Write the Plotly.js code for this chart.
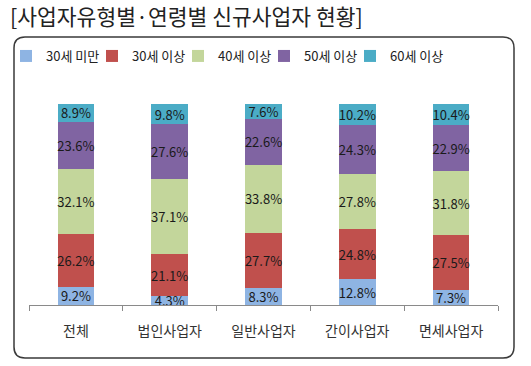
<!DOCTYPE html>
<html>
<head>
<meta charset="utf-8">
<script src="https://cdn.plot.ly/plotly-3.0.1.min.js"></script>
<style>html,body{margin:0;padding:0;background:#fff;}#chart{width:531px;height:366px;}</style>
</head>
<body>
<div id="chart"></div>
<script>
const categories = ['전체', '법인사업자', '일반사업자', '간이사업자', '면세사업자'];
const seriesNames = ['30세 미만', '30세 이상', '40세 이상', '50세 이상', '60세 이상'];
const under30 = [9.2, 4.3, 8.3, 12.8, 7.3];
const age30 = [26.2, 21.1, 27.7, 24.8, 27.5];
const age40 = [32.1, 37.1, 33.8, 27.8, 31.8];
const age50 = [23.6, 27.6, 22.6, 24.3, 22.9];
const age60 = [8.9, 9.8, 7.6, 10.2, 10.4];
const colors = ['#8EB4E3', '#C0504D', '#C3D69B', '#8064A2', '#4BACC6'];

const FONT = '"Noto Sans CJK KR", "Noto Sans", sans-serif';
const W = 531, H = 366;
const PL = 29, PR = 498, PT = 104, PB = 305;
const pxX = x => (x - PL) / (PR - PL);
const pxY = y => (PB - y) / (PB - PT);

const all = [under30, age30, age40, age50, age60];
const legendIds = ['legend', 'legend2', 'legend3', 'legend4', 'legend5'];
const traces = all.map((vals, i) => ({
  type: 'bar',
  name: seriesNames[i],
  legend: legendIds[i],
  x: categories,
  y: vals,
  width: 0.39,
  marker: {color: colors[i], line: {width: 0}},
  text: vals.map(v => v.toFixed(1) + '%'),
  textposition: 'inside',
  insidetextanchor: 'middle',
  textangle: 0,
  constraintext: 'none',
  insidetextfont: {family: FONT, size: 13, color: '#1a1a1a'},
  hoverinfo: 'skip'
}));

// rounded frame
const bx0 = 14, bx1 = 514, by0 = 37, by1 = 358, r = 11;
const path = [
  'M', pxX(bx0 + r), pxY(by0),
  'L', pxX(bx1 - r), pxY(by0),
  'Q', pxX(bx1), pxY(by0), pxX(bx1), pxY(by0 + r),
  'L', pxX(bx1), pxY(by1 - r),
  'Q', pxX(bx1), pxY(by1), pxX(bx1 - r), pxY(by1),
  'L', pxX(bx0 + r), pxY(by1),
  'Q', pxX(bx0), pxY(by1), pxX(bx0), pxY(by1 - r),
  'L', pxX(bx0), pxY(by0 + r),
  'Q', pxX(bx0), pxY(by0), pxX(bx0 + r), pxY(by0), 'Z'
].join(' ');

const layout = {
  width: W, height: H,
  margin: {l: PL, r: W - PR, t: PT, b: H - PB, autoexpand: false},
  paper_bgcolor: '#ffffff',
  plot_bgcolor: 'rgba(0,0,0,0)',
  barmode: 'stack',
  showlegend: true,
  font: {family: FONT, color: '#222'},
  title: {
    text: '[사업자유형별·연령별 신규사업자 현황]',
    x: 10 / W, xanchor: 'left', xref: 'container',
    y: 1 - 17 / H, yanchor: 'middle', yref: 'container',
    font: {family: FONT, size: 21.5, color: '#222'}
  },
  xaxis: {
    type: 'category',
    showline: true, linecolor: '#8a8a8a', linewidth: 1,
    ticks: 'outside', tickson: 'boundaries', ticklen: 5, tickcolor: '#8a8a8a',
    tickfont: {family: FONT, size: 14, color: '#333'},
    ticklabelstandoff: 13,
    showgrid: false, zeroline: false, fixedrange: true
  },
  yaxis: {
    range: [0, 100], visible: false, showgrid: false, zeroline: false, fixedrange: true
  },
  shapes: [{
    type: 'path', xref: 'paper', yref: 'paper', path: path,
    line: {color: '#3a3a3a', width: 1.5}, layer: 'below'
  }]
};

// one legend box per series, laid out in a row like the original
legendIds.forEach((id, i) => {
  layout[id] = {
    orientation: 'h',
    x: pxX(6 + 86 * i), xanchor: 'left',
    y: pxY(56), yanchor: 'middle',
    itemwidth: 30,
    font: {family: FONT, size: 13, color: '#222'},
    bgcolor: 'rgba(0,0,0,0)', borderwidth: 0
  };
});

Plotly.newPlot('chart', traces, layout, {displayModeBar: false, staticPlot: true});
</script>
</body>
</html>
